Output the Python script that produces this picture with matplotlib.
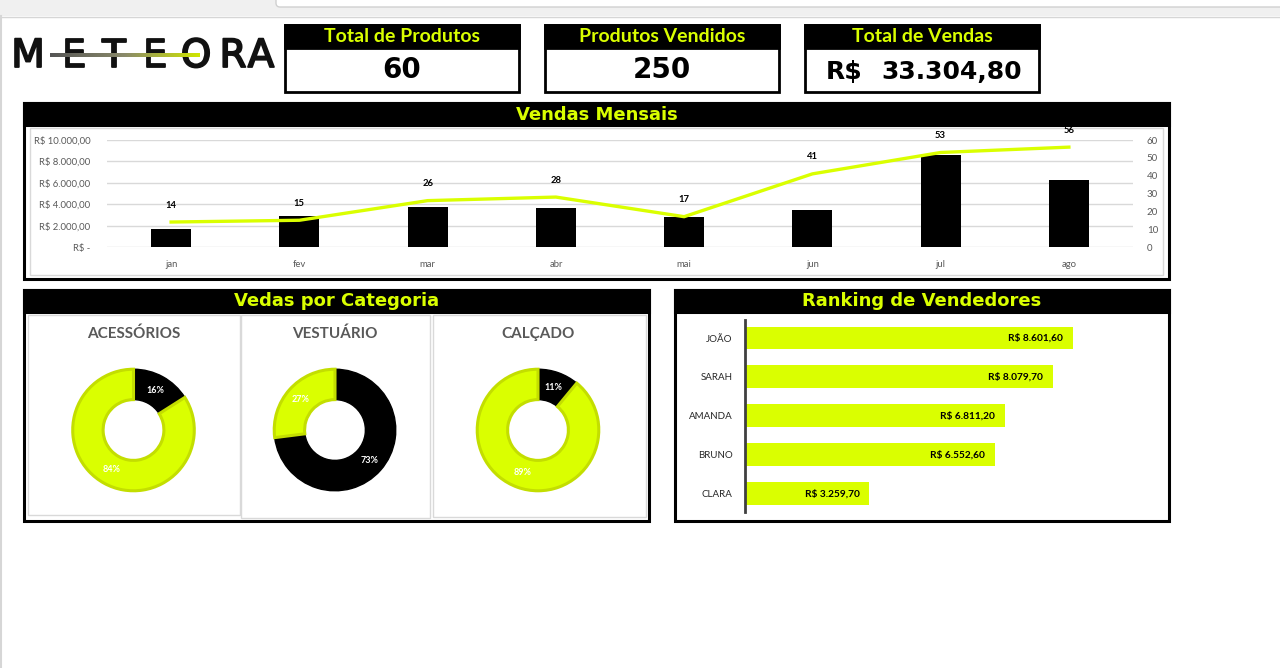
import numpy as np
import matplotlib
matplotlib.use('Agg')
import matplotlib.pyplot as plt
import matplotlib.patheffects as pe
from matplotlib.patches import Rectangle, FancyBboxPatch
from matplotlib.colors import LinearSegmentedColormap
from matplotlib.ticker import FuncFormatter

plt.rcParams['font.family'] = ['Lato', 'DejaVu Sans']

# dados
kpi_titulos = ['Total de Produtos', 'Produtos Vendidos', 'Total de Vendas']
kpi_valores = ['60', '250', '33.304,80']

meses = ['jan', 'fev', 'mar', 'abr', 'mai', 'jun', 'jul', 'ago']
vendas_mes = [1700, 2920, 3700, 3610, 2760, 3420, 8560, 6300]
qtd_mes = [14, 15, 26, 28, 17, 41, 53, 56]

categorias = ['ACESSÓRIOS', 'VESTUÁRIO', 'CALÇADO']
cat_preto = [16, 73, 11]
cat_amarelo = [84, 27, 89]

vendedores = ['JOÃO', 'SARAH', 'AMANDA', 'BRUNO', 'CLARA']
vendas_vendedor = [8601.60, 8079.70, 6811.20, 6552.60, 3259.70]

AMARELO = '#DAFF00'
W, H = 1280, 668


def px(x, y, w, h):
    return [x / W, 1 - (y + h) / H, w / W, h / H]


def brl(v):
    s = f'{v:,.2f}'
    return s.replace(',', 'X').replace('.', ',').replace('X', '.')


fig = plt.figure(figsize=(12.8, 6.68), dpi=100)
fig.patch.set_facecolor('white')

# fundo / moldura em coordenadas de pixel
bg = fig.add_axes([0, 0, 1, 1])
bg.axis('off')
bg.add_patch(Rectangle((0, 0), W, 16, fc='#f0f0f0', ec='none'))
bg.add_patch(FancyBboxPatch((276, -10), 1100, 17, boxstyle='round,pad=0,rounding_size=4',
                            fc='white', ec='#d0d0d0', lw=1))
bg.plot([0, W], [16.5, 16.5], color='#d6d6d6', lw=1)
bg.plot([0.5, 0.5], [16, H], color='#d6d6d6', lw=1.5)

# logo
letras = 'METEORA'
pos_letras = [28, 74, 114, 155, 196, 233, 261]
for l, xl in zip(letras, pos_letras):
    bg.text(xl, 56, l, fontsize=28, fontweight='normal', family='DejaVu Sans',
            ha='center', va='center', color='#111111',
            path_effects=[pe.withStroke(linewidth=1.3, foreground='#111111')])
grad = LinearSegmentedColormap.from_list('g', ['#555555', '#8a8a6a', '#cfe600'])
bg.imshow(np.linspace(0, 1, 200)[None, :], cmap=grad, aspect='auto',
          extent=(50, 200, 57.5, 53.5), zorder=5, interpolation='bilinear')
bg.set_xlim(0, W)
bg.set_ylim(H, 0)

# KPIs
kpi_x = [285, 545, 805]
for i, (t, v) in enumerate(zip(kpi_titulos, kpi_valores)):
    x0 = kpi_x[i]
    bg.add_patch(Rectangle((x0, 25), 234, 67, fc='white', ec='black', lw=2))
    bg.add_patch(Rectangle((x0, 25), 234, 23, fc='black', ec='black', lw=2))
    bg.text(x0 + 117, 37, t, fontsize=14, fontweight='bold', color=AMARELO,
            ha='center', va='center')
    if i == 2:
        bg.text(844, 72, 'R$', fontsize=18, fontweight='bold', family='DejaVu Sans',
                ha='center', va='center', color='black')
        bg.text(952, 72, v, fontsize=18, fontweight='bold', family='DejaVu Sans',
                ha='center', va='center', color='black')
    else:
        bg.text(x0 + 117, 70, v, fontsize=20, fontweight='bold', family='DejaVu Sans',
                ha='center', va='center', color='black')


def painel(x, y, w, h, titulo):
    bg.add_patch(Rectangle((x, y), w, h, fc='white', ec='black', lw=2.2))
    bg.add_patch(Rectangle((x, y), w, 22, fc='black', ec='black', lw=2.2))
    bg.text(x + w / 2, y + 11.5, titulo, fontsize=13, fontweight='bold',
            family='DejaVu Sans', color=AMARELO, ha='center', va='center')


painel(24, 103, 1145, 176, 'Vendas Mensais')
painel(24, 290, 625, 231, 'Vedas por Categoria')
painel(675, 290, 494, 231, 'Ranking de Vendedores')

bg.add_patch(Rectangle((30, 128), 1133, 147, fc='none', ec='#d9d9d9', lw=1))
for (sx, sw, sh) in [(28, 212, 200), (241, 189, 203), (433, 213, 202)]:
    bg.add_patch(Rectangle((sx, 315), sw, sh, fc='none', ec='#d9d9d9', lw=1))

# vendas mensais
ax = fig.add_axes(px(107, 140, 1026, 107))
ax.set_facecolor('none')
x = np.arange(len(meses))
ax.bar(x, vendas_mes, width=0.31, color='black', zorder=3)
ax.set_xlim(-0.5, len(meses) - 0.5)
ax.set_ylim(0, 10000)
ax.set_yticks(np.arange(0, 10001, 2000))
ax.yaxis.set_major_formatter(FuncFormatter(
    lambda v, p: 'R$ -' if v == 0 else 'R$ ' + brl(v)))
ax.set_xticks(x)
ax.set_xticklabels(meses)
ax.grid(axis='y', color='#d9d9d9', lw=1, zorder=0)
for s in ax.spines.values():
    s.set_visible(False)
ax.tick_params(length=0, labelsize=6.8, labelcolor='#595959')
ax.tick_params(axis='y', pad=12)
ax.tick_params(axis='x', pad=9)

ax2 = ax.twinx()
ax2.plot(x, qtd_mes, color=AMARELO, lw=2.4, zorder=4)
ax2.set_ylim(0, 60)
ax2.set_yticks(np.arange(0, 61, 10))
for s in ax2.spines.values():
    s.set_visible(False)
ax2.tick_params(length=0, labelsize=7, labelcolor='#595959', pad=10)
for xi, q in zip(x, qtd_mes):
    ax2.annotate(str(q), (xi, q), xytext=(0, 9), textcoords='offset points',
                 ha='center', va='bottom', fontsize=6.8, fontweight='bold')

# categorias
centros = [133.5, 335, 538]
for i, cat in enumerate(categorias):
    bg.text(centros[i], 334, cat, fontsize=11, fontweight='bold', color='#595959',
            ha='center', va='center')
    axp = fig.add_axes(px(centros[i] - 62, 430 - 62, 124, 124))
    wedges, textos, pcts = axp.pie(
        [cat_preto[i], cat_amarelo[i]], colors=['black', AMARELO], startangle=90,
        counterclock=False, radius=1, wedgeprops=dict(width=0.5),
        autopct=lambda p: f'{p:.0f}%', pctdistance=0.75,
        textprops=dict(color='white', fontsize=6.5, fontweight='bold'))
    wedges[1].set_edgecolor('#c3de00')
    wedges[1].set_linewidth(2.2)
    wedges[0].set_edgecolor('black')
    axp.set_xlim(-1.02, 1.02)
    axp.set_ylim(-1.02, 1.02)

# ranking
axr = fig.add_axes(px(745, 320, 381, 192))
axr.set_facecolor('none')
yv = np.arange(len(vendedores))
axr.barh(yv, vendas_vendedor, height=0.59, color=AMARELO)
axr.set_xlim(0, 10000)
axr.set_ylim(4.473, -0.463)
axr.set_yticks(yv)
axr.set_yticklabels(vendedores)
axr.set_xticks([])
for k in ['top', 'right', 'bottom']:
    axr.spines[k].set_visible(False)
axr.spines['left'].set_color('#404040')
axr.spines['left'].set_linewidth(2)
axr.tick_params(length=0, labelsize=7, labelcolor='#262626', pad=9)
for yi, v in zip(yv, vendas_vendedor):
    axr.text(v - 250, yi, 'R$ ' + brl(v), ha='right', va='center',
             fontsize=7.3, fontweight='bold', color='black')

fig.savefig('out.png', dpi=100)
